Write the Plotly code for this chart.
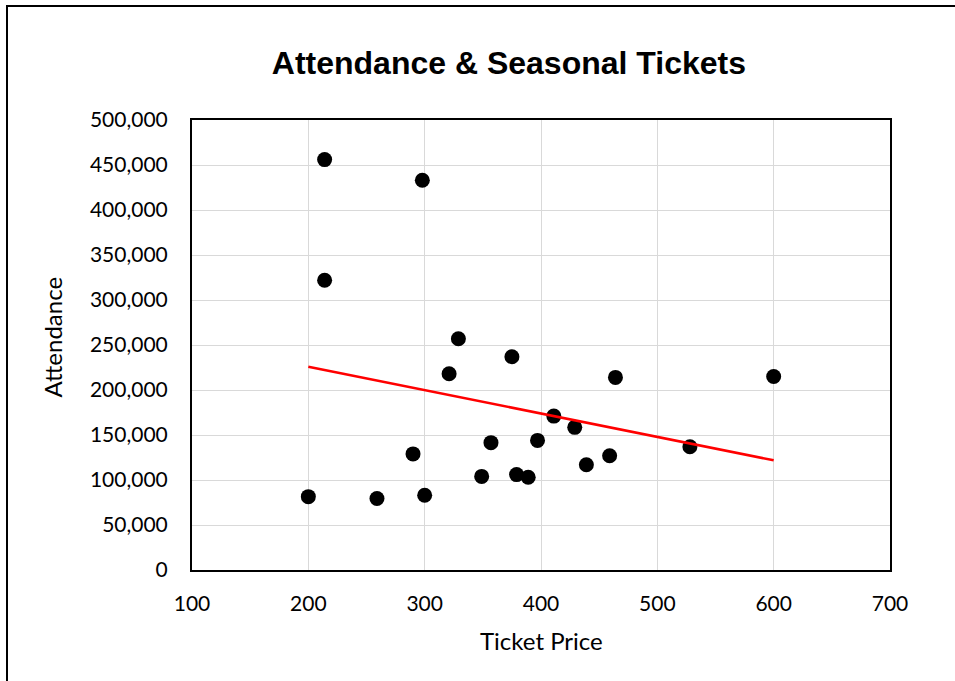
import numpy as np
import plotly.graph_objects as go

# Season ticket price vs. attendance
ticket_price = [200, 214, 214, 259, 290, 298, 300, 321, 329, 349, 357,
                375, 379, 389, 397, 411, 429, 439, 459, 464, 528, 600]
attendance = [81500, 456000, 322000, 79500, 129000, 433000, 83000, 218000,
              257000, 104000, 141500, 237000, 106000, 103000, 144000, 171000,
              158500, 117000, 127000, 214000, 137000, 215000]

x_ticks = [100, 200, 300, 400, 500, 600, 700]
y_ticks = list(range(0, 500001, 50000))

# Linear trendline (least squares) over the observed price range
slope, intercept = np.polyfit(ticket_price, attendance, 1)
trend_x = np.array([min(ticket_price), max(ticket_price)])
trend_y = slope * trend_x + intercept

TICK_FONT = dict(family="Lato, Open Sans, sans-serif", size=21, color="#000000")
LABEL_FONT = dict(family="Lato, Open Sans, sans-serif", size=24, color="#000000")

fig = go.Figure()
fig.add_trace(go.Scatter(
    x=ticket_price, y=attendance, mode="markers",
    marker=dict(color="#000000", size=15, line=dict(width=0)),
    showlegend=False, hoverinfo="x+y",
))
fig.add_trace(go.Scatter(
    x=trend_x, y=trend_y, mode="lines",
    line=dict(color="#ff0000", width=2.6),
    showlegend=False, hoverinfo="skip",
))

fig.update_layout(
    width=955, height=681, autosize=False,
    margin=dict(l=192, r=65, t=120, b=111),
    paper_bgcolor="#ffffff", plot_bgcolor="#ffffff",
    title=dict(
        text="Attendance &amp; Seasonal Tickets",
        font=dict(family="Liberation Sans, Arial, sans-serif", size=32,
                  color="#000000", weight="bold"),
        xref="paper", x=0.454, xanchor="center",
        yref="container", y=1 - 63 / 681, yanchor="middle",
    ),
    xaxis=dict(
        range=[100, 700], tickvals=x_ticks, ticktext=[str(v) for v in x_ticks],
        showgrid=True, gridcolor="#d9d9d9", gridwidth=1.3,
        showline=True, linecolor="#000000", linewidth=2, mirror=True,
        zeroline=False, ticks="", tickfont=TICK_FONT, ticklabelstandoff=14,
    ),
    yaxis=dict(
        range=[0, 500000], tickvals=y_ticks,
        ticktext=[f"{v:,}" for v in y_ticks],
        showgrid=True, gridcolor="#d9d9d9", gridwidth=1.3,
        showline=True, linecolor="#000000", linewidth=2, mirror=True,
        zeroline=False, ticks="", tickfont=TICK_FONT, ticklabelstandoff=18,
    ),
    annotations=[
        dict(text="Attendance", xref="paper", yref="paper",
             x=(52 - 192) / 698, y=(570 - 337.5) / 450, textangle=-90,
             xanchor="center", yanchor="middle", showarrow=False,
             font=LABEL_FONT),
        dict(text="Ticket Price", xref="paper", yref="paper",
             x=0.5, y=(570 - 640) / 450,
             xanchor="center", yanchor="middle", showarrow=False,
             font=LABEL_FONT),
    ],
    shapes=[
        # outer chart frame
        dict(type="rect", xref="paper", yref="paper",
             x0=(7 - 192) / 698, x1=1.2, y0=-0.4, y1=(570 - 6) / 450,
             line=dict(color="#000000", width=2), fillcolor="rgba(0,0,0,0)",
             layer="above"),
    ],
)

fig.write_html("out.html")
